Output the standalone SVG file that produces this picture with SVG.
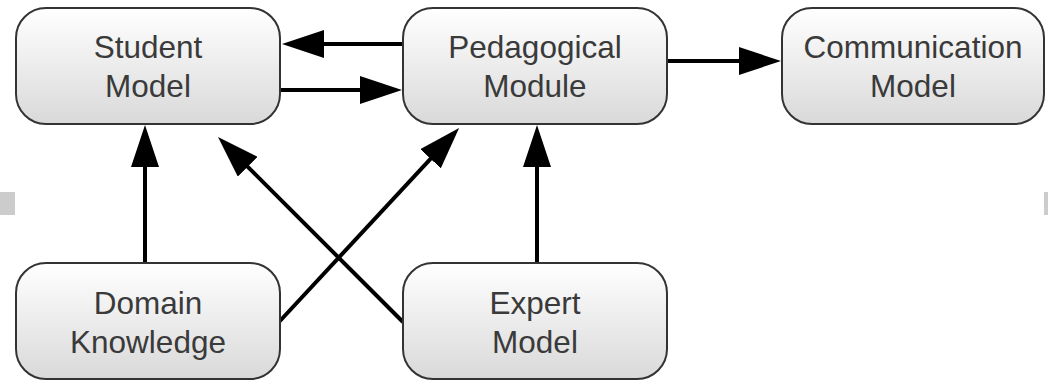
<svg xmlns="http://www.w3.org/2000/svg" width="1048" height="382" viewBox="0 0 1048 382">
<defs>
<linearGradient id="g" x1="0" y1="0" x2="0" y2="1">
<stop offset="0" stop-color="#ffffff"/>
<stop offset="1" stop-color="#d9d9d9"/>
</linearGradient>
<marker id="ah" viewBox="0 0 42 28" refX="2" refY="14" markerWidth="42" markerHeight="28" markerUnits="userSpaceOnUse" orient="auto">
<path d="M0,0 L42,14 L0,28 z" fill="#000"/>
</marker>
<style>
.box{fill:url(#g);stroke:#333;stroke-width:2}
.t{font-family:"Liberation Sans",Arial,sans-serif;font-size:31.5px;fill:#3a3a3a;text-anchor:middle}
.c{stroke:#000;stroke-width:4;fill:none;marker-end:url(#ah)}
</style>
</defs>
<rect width="1048" height="382" fill="#fff"/>
<rect x="0" y="192" width="15" height="23" fill="#cccccc"/>
<rect x="1044" y="192" width="4" height="23" fill="#cccccc"/>
<g id="connectors">
<line class="c" x1="403" y1="44" x2="322" y2="44"/>
<line class="c" x1="280" y1="90" x2="362" y2="90"/>
<line class="c" x1="667" y1="61" x2="741" y2="61"/>
<line class="c" x1="145" y1="263" x2="145" y2="165"/>
<line class="c" x1="537" y1="263" x2="537" y2="165"/>
<line class="c" x1="279" y1="322" x2="431.9" y2="157.3"/>
<line class="c" x1="403" y1="322" x2="246.3" y2="165.3"/>
</g>
<g id="student">
<rect class="box" x="16" y="8" width="264" height="116" rx="30"/>
<text class="t" x="148" y="58">Student</text>
<text class="t" x="148" y="97">Model</text>
</g>
<g id="pedagogical">
<rect class="box" x="403" y="8" width="264" height="116" rx="30"/>
<text class="t" x="535" y="58">Pedagogical</text>
<text class="t" x="535" y="97">Module</text>
</g>
<g id="communication">
<rect class="box" x="782" y="8" width="262" height="116" rx="30"/>
<text class="t" x="913" y="58">Communication</text>
<text class="t" x="913" y="97">Model</text>
</g>
<g id="domain">
<rect class="box" x="16" y="263" width="264" height="116" rx="30"/>
<text class="t" x="148" y="314">Domain</text>
<text class="t" x="148" y="353">Knowledge</text>
</g>
<g id="expert">
<rect class="box" x="403" y="263" width="264" height="116" rx="30"/>
<text class="t" x="535" y="314">Expert</text>
<text class="t" x="535" y="353">Model</text>
</g>
</svg>
